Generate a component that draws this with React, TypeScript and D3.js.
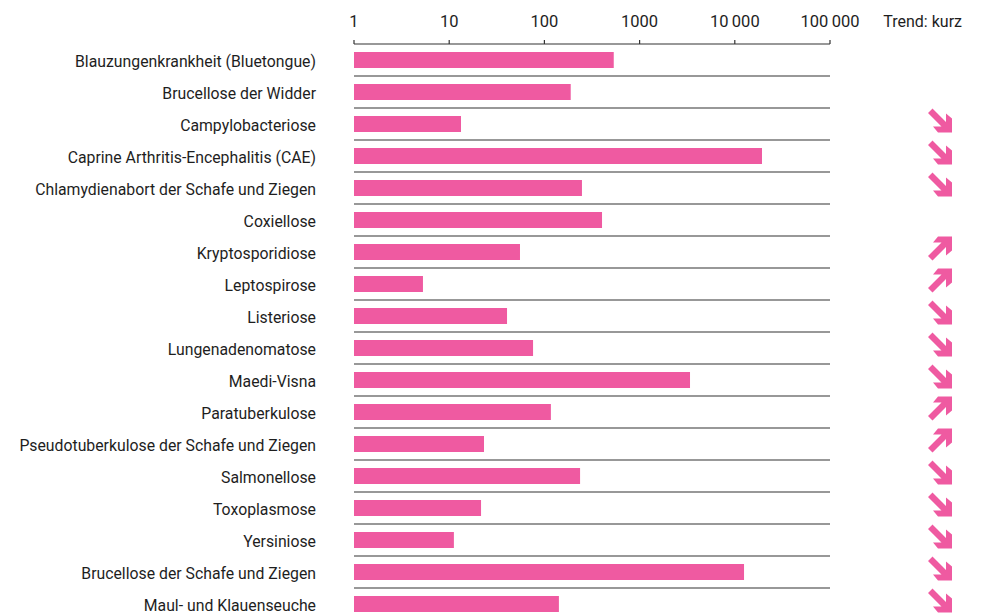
import React from "react";
import * as d3 from "d3";

const categories = [
  "Blauzungenkrankheit (Bluetongue)",
  "Brucellose der Widder",
  "Campylobacteriose",
  "Caprine Arthritis-Encephalitis (CAE)",
  "Chlamydienabort der Schafe und Ziegen",
  "Coxiellose",
  "Kryptosporidiose",
  "Leptospirose",
  "Listeriose",
  "Lungenadenomatose",
  "Maedi-Visna",
  "Paratuberkulose",
  "Pseudotuberkulose der Schafe und Ziegen",
  "Salmonellose",
  "Toxoplasmose",
  "Yersiniose",
  "Brucellose der Schafe und Ziegen",
  "Maul- und Klauenseuche",
];

const values = [535, 189, 13.3, 19300, 248, 403, 55.4, 5.3, 40.5, 76, 3385, 117, 23.2, 237, 21.6, 11.2, 12500, 142];

const trends = ["", "", "down", "down", "down", "", "up", "up", "down", "down", "down", "up", "up", "down", "down", "down", "down", "down"];

const tickValues = [1, 10, 100, 1000, 10000, 100000];
const tickLabels = ["1", "10", "100", "1000", "10\u2009000", "100\u2009000"];
const trendTitle = "Trend: kurz";

const PINK = "#EF5AA1";
const TEXT = "#1e1e1e";
const FONT = "Roboto, 'Open Sans', sans-serif";

const W = 985;
const H = 615;
const axisY = 44;
const rowH = 32;

const downArrow = "M0,4.5 L4.5,0 L18,13.5 L18,5 L24,10 L24,24 L10,24 L5,18 L13.5,18 Z";
const upArrow = "M0,19.5 L4.5,24 L18,10.5 L18,19 L24,14 L24,0 L10,0 L5,6 L13.5,6 Z";

export default function App() {
  const x = d3.scaleLog().domain([1, 100000]).range([354, 830]);
  const y = d3
    .scaleBand<number>()
    .domain(d3.range(categories.length))
    .range([axisY, axisY + rowH * categories.length])
    .paddingInner(0.5)
    .paddingOuter(0.25);
  const rowCenter = (i: number) => axisY + rowH * i + rowH / 2;

  return (
    <svg
      width={W}
      height={H}
      style={{ position: "absolute", left: 0, top: 0, background: "#fff" }}
      fontFamily={FONT}
    >
      {tickValues.map((t, i) => (
        <text key={"tl" + i} x={x(t)} y={27} textAnchor="middle" fontSize={16.5} fill={TEXT}>
          {tickLabels[i]}
        </text>
      ))}
      <text x={962} y={27} textAnchor="end" fontSize={16} fill={TEXT}>
        {trendTitle}
      </text>
      <line x1={x(1)} x2={x(100000)} y1={axisY} y2={axisY} stroke="#333" strokeWidth={1.2} />
      {tickValues.map((t, i) => (
        <line key={"tk" + i} x1={x(t)} x2={x(t)} y1={axisY - 4} y2={axisY} stroke="#333" strokeWidth={1.2} />
      ))}
      {categories.map((c, i) => (
        <g key={"r" + i}>
          <rect
            x={x(1)}
            y={y(i) as number}
            width={x(values[i]) - x(1)}
            height={y.bandwidth()}
            fill={PINK}
          />
          <line
            x1={x(1)}
            x2={x(100000)}
            y1={axisY + rowH * (i + 1)}
            y2={axisY + rowH * (i + 1)}
            stroke="#333"
            strokeWidth={1.2}
          />
          <text x={316} y={rowCenter(i) + 7} textAnchor="end" fontSize={15.8} fill={TEXT}>
            {c}
          </text>
          {trends[i] && (
            <path
              d={trends[i] === "down" ? downArrow : upArrow}
              transform={`translate(928,${rowCenter(i) - 15.5})`}
              fill={PINK}
            />
          )}
        </g>
      ))}
    </svg>
  );
}
